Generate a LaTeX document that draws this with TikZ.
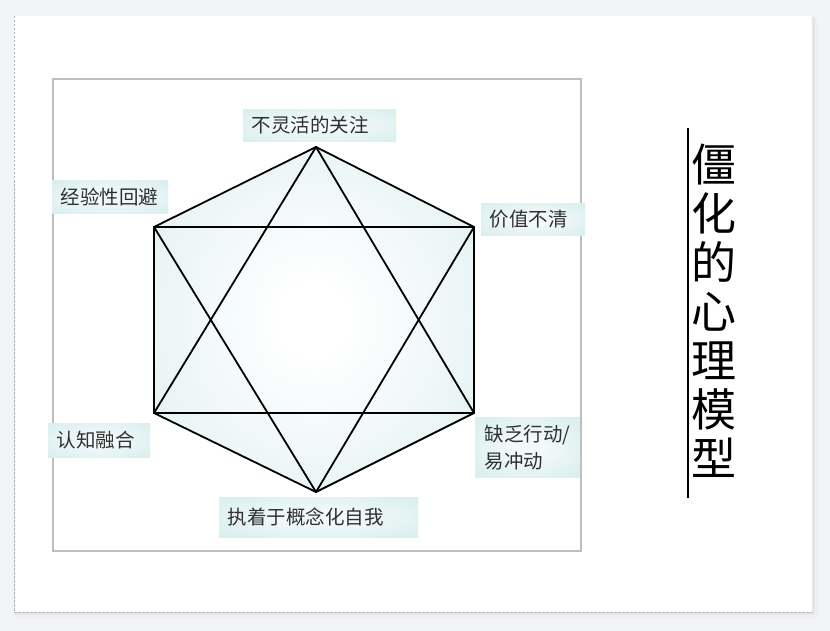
\documentclass[tikz,border=0pt]{standalone}
\usepackage{fontspec}
\newfontfamily\cjk{Noto Sans CJK SC}
\definecolor{bgc}{HTML}{F3F4F6}
\definecolor{shadowc}{HTML}{E3E5E9}
\definecolor{framec}{HTML}{BDBDBD}
\definecolor{hexc}{HTML}{D2EAEA}
\definecolor{lblc}{HTML}{D2EBEB}
\definecolor{lblm}{HTML}{F2F9F9}
\definecolor{txtc}{HTML}{303030}
\pgfdeclareradialshading{hexshade}{\pgfpoint{0bp}{0bp}}{color(0bp)=(white);color(5bp)=(white);color(48bp)=(hexc);color(100bp)=(hexc)}
\pgfdeclareradialshading{lblshade}{\pgfpoint{0bp}{0bp}}{color(0bp)=(lblm);color(8bp)=(lblm);color(42bp)=(lblc);color(100bp)=(lblc)}
\tikzset{
  lbl/.style={shade, shading=lblshade, anchor=north west, inner xsep=8.5bp, inner ysep=0pt,
    align=left, font=\cjk\fontsize{19.5bp}{27bp}\selectfont, text=txtc},
  edge/.style={line width=1.8bp, black, line join=round},
}
\begin{document}
\begin{tikzpicture}[x=1bp, y=-1bp]
\useasboundingbox (0,0) rectangle (830,631);
% background and page
\fill[bgc] (0,0) rectangle (830,631);
\fill[shadowc!60] (15,17) rectangle (818,618);
\fill[shadowc] (15,17) rectangle (815,615);
\fill[white] (14,16) rectangle (812,612);
\draw[gray!60, line width=0.8bp, dash pattern=on 2.5bp off 1.5bp] (14,16) -- (14,612) -- (812,612);
% inner frame
\draw[framec, line width=1.5bp] (53,79) rectangle (581,551);
% hexagon
\coordinate (T) at (316,147);
\coordinate (UR) at (474,227);
\coordinate (LR) at (474,413);
\coordinate (B) at (316,492);
\coordinate (LL) at (154,413);
\coordinate (UL) at (154,227);
\shade[shading=hexshade] (T) -- (UR) -- (LR) -- (B) -- (LL) -- (UL) -- cycle;
\draw[edge] (T) -- (UR) -- (LR) -- (B) -- (LL) -- (UL) -- cycle;
\draw[edge] (T) -- (LL) -- (LR) -- cycle;
\draw[edge] (B) -- (UL) -- (UR) -- cycle;
% labels
\node[lbl, text width=136bp, minimum height=32bp] (n1) at (243,109) {不灵活的关注};
\node[lbl, text width=87bp, minimum height=32bp] (n2) at (481,203) {价值不清};
\node[lbl, text width=99bp, minimum height=33bp] (n3) at (52,180) {经验性回避};
\node[lbl, text width=85bp, minimum height=34bp] (n4) at (48,423) {认知融合};
\node[lbl, text width=86bp, minimum height=60bp, inner xsep=9.5bp] (n5) at (475,417) {缺乏行动/\\易冲动};
\node[lbl, text width=182bp, minimum height=40bp] (n6) at (219,497) {执着于概念化自我};
% title
\coordinate (ta) at (688,128);
\coordinate (tb) at (688,498);
\draw[line width=2.2bp] (ta) -- (tb);
\node[font=\cjk\fontsize{45bp}{49bp}\selectfont, align=center, inner sep=0pt] (title) at (714,311) {僵\\化\\的\\心\\理\\模\\型};
\end{tikzpicture}
\end{document}
